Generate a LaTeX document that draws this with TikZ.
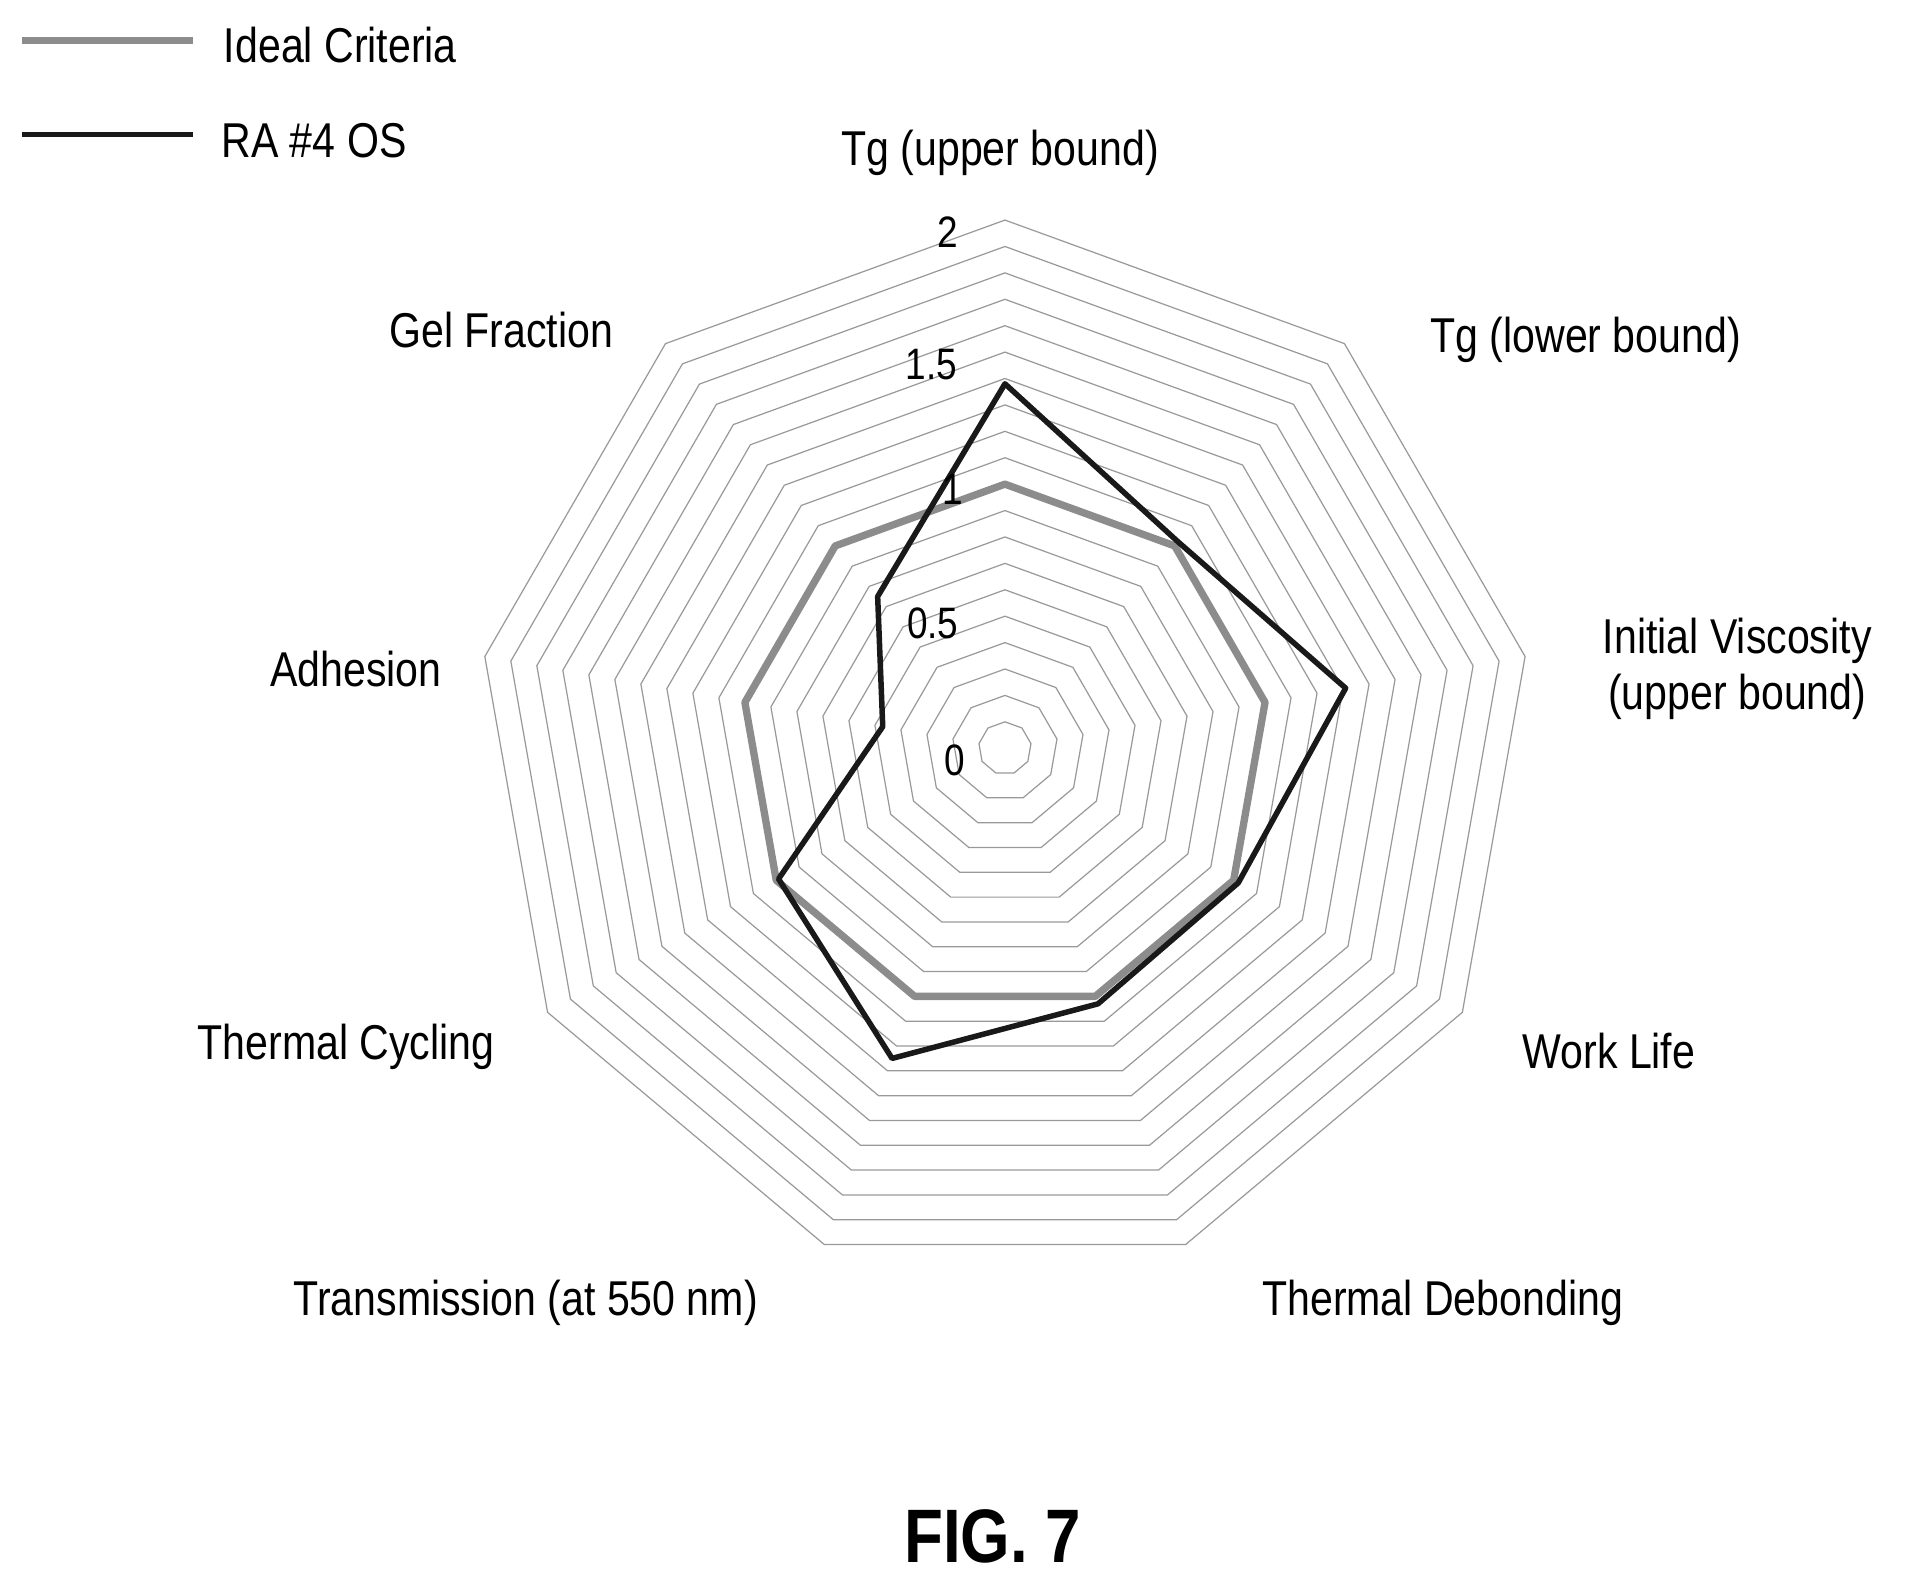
\documentclass[tikz,border=0pt]{standalone}
\usepackage{fontspec}
\setmainfont[FakeStretch=0.84]{Liberation Sans}
\usetikzlibrary{calc}

\begin{document}
\begin{tikzpicture}[x=1pt,y=-1pt,
                    grid ring/.style={draw=black!40, line width=1pt},
                    ideal line/.style={draw=black!45, line width=6pt, line join=round},
                    ra line/.style={draw=black!90, line width=4.5pt, line join=round},
                    axis label/.style={font=\fontsize{40}{46}\selectfont, align=center, inner sep=0pt},
                    tick label/.style={font=\fontsize{36}{40}\selectfont, inner sep=0pt}]
  \useasboundingbox (0,0) rectangle (1559,1291);
  \coordinate (centre) at (822,612);
  % grid rings, 0.1 apart
  \foreach \r in {1,...,20}{
    \draw[grid ring] ($(centre)+(0:0)+({21.6*\r*sin(0)},{-21.6*\r*cos(0)})$)
      \foreach \a in {40,80,...,320}{ -- ($(centre)+({21.6*\r*sin(\a)},{-21.6*\r*cos(\a)})$)} -- cycle;
  }
  % ideal criteria
  \foreach \a [count=\i] in {0,40,...,320}
    \coordinate (ideal\i) at ($(centre)+({216*sin(\a)},{-216*cos(\a)})$);
  \draw[ideal line] (ideal1) -- (ideal2) -- (ideal3) -- (ideal4) -- (ideal5) -- (ideal6) -- (ideal7) -- (ideal8) -- (ideal9) -- cycle;
  % RA #4 OS
  \foreach \v [count=\i, evaluate=\i as \a using (\i-1)*40] in {1.38,1.02,1.31,1.02,1.03,1.25,0.99,0.47,0.75}
    \coordinate (ra\i) at ($(centre)+({216*\v*sin(\a)},{-216*\v*cos(\a)})$);
  \draw[ra line] (ra1) -- (ra2) -- (ra3) -- (ra4) -- (ra5) -- (ra6) -- (ra7) -- (ra8) -- (ra9) -- cycle;
  % scale
  \node[tick label] (tick2) at (775,190) {2};
  \node[tick label] (tick15) at (762,298) {1.5};
  \node[tick label] (tick1) at (779,400) {1};
  \node[tick label] (tick05) at (763,510) {0.5};
  \node[tick label] (tick0) at (781,622) {0};
  % axis labels
  \node[axis label] (tgupper) at (818,125) {Tg (upper bound)};
  \node[axis label] (tglower) at (1297,278) {Tg (lower bound)};
  \node[axis label] (viscosity) at (1421,547) {Initial Viscosity\\(upper bound)};
  \node[axis label] (worklife) at (1316,860) {Work Life};
  \node[axis label] (debonding) at (1180,1066) {Thermal Debonding};
  \node[axis label] (transmission) at (430,1066) {Transmission (at 550 nm)};
  \node[axis label] (cycling) at (283,856) {Thermal Cycling};
  \node[axis label] (adhesion) at (291,547) {Adhesion};
  \node[axis label] (gel) at (410,270) {Gel Fraction};
  % legend
  \coordinate (idealA) at (18,33);
  \coordinate (idealB) at (158,33);
  \coordinate (raA) at (18,110);
  \coordinate (raB) at (158,110);
  \draw[ideal line] (idealA) -- (idealB);
  \draw[ra line] (raA) -- (raB);
  \node[axis label, anchor=west] (idealkey) at (183,37) {Ideal Criteria};
  \node[axis label, anchor=west] (rakey) at (181,115) {RA \#4 OS};
  \node[font=\fontsize{62}{70}\selectfont\bfseries, inner sep=0pt] (figure) at (812,1257) {FIG. 7};
\end{tikzpicture}
\end{document}
